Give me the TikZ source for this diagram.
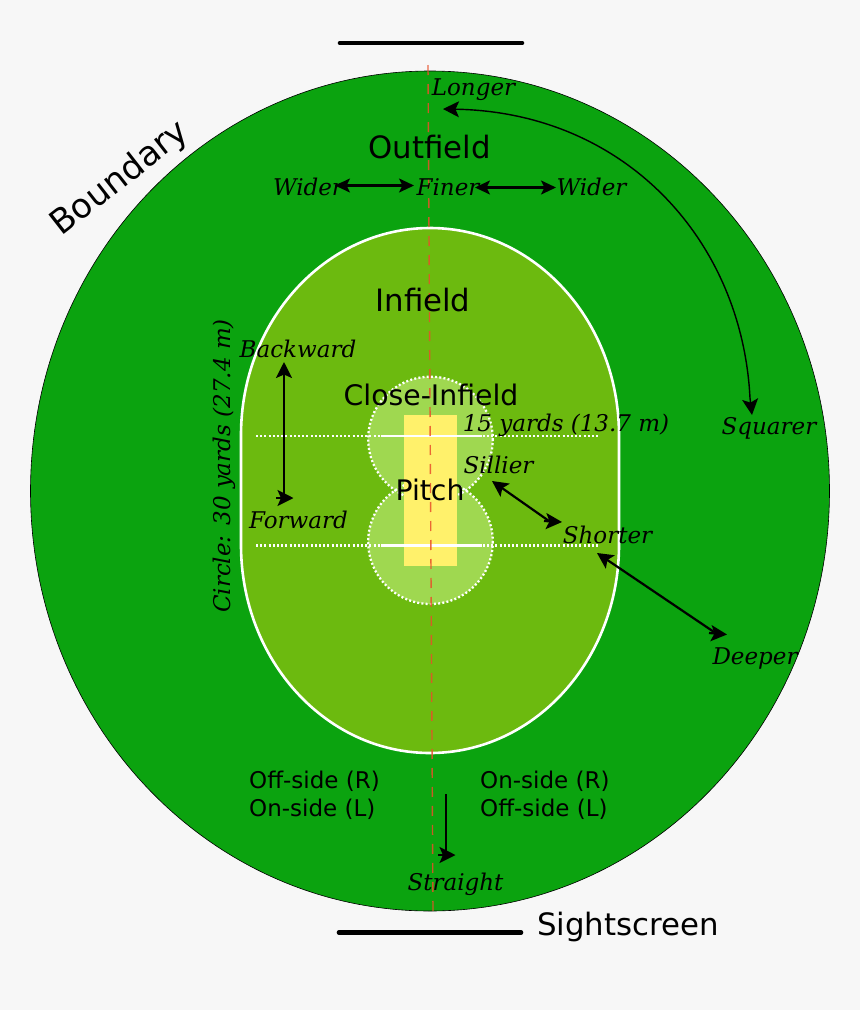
\documentclass[tikz,border=0pt]{standalone}
\usepackage{fontspec}
\setmainfont{DejaVu Sans}
\newfontfamily\fieldserif{DejaVu Serif}
\usetikzlibrary{arrows.meta,positioning}
\definecolor{paper}{HTML}{F7F7F7}
\definecolor{outfield}{HTML}{0BA30F}
\definecolor{infield}{HTML}{6CBA0F}
\definecolor{closefield}{HTML}{9FD850}
\definecolor{pitchcol}{HTML}{FFF16B}
\definecolor{centreline}{HTML}{E8502A}
\tikzset{x=1pt,y=-1pt,
	every node/.style={inner sep=0pt,text=black},
	zone/.style={font=\fontsize{30.8}{36}\selectfont},
	zonesmall/.style={font=\fontsize{28.3}{34}\selectfont},
	sidelabel/.style={anchor=west,font=\fontsize{23}{28}\selectfont},
	hint/.style={font=\fieldserif\itshape\fontsize{23}{28}\selectfont},
	rope/.style={line width=4.6pt,line cap=round},
	dotline/.style={white,line width=2.3pt,dash pattern=on 2pt off 2.2pt},
	crease/.style={white,line width=2.6pt},
	arrowline/.style={line width=2.2pt},
	headed/.style={line width=2.2pt,-{Stealth[length=16pt,width=16pt,inset=3.5pt]}},
	thinheaded/.style={line width=1.4pt,-{Stealth[length=16pt,width=16pt,inset=3.5pt]}},
	bothheaded/.style={line width=2.2pt,{Stealth[length=15pt,width=14pt,inset=3.5pt]}-{Stealth[length=15pt,width=14pt,inset=3.5pt]}}}
\begin{document}
\begin{tikzpicture}
	\fill[paper] (0,0) rectangle (860,1010);
	\useasboundingbox (0,0) rectangle (860,1010);
	% ground
	\draw[fill=outfield,line width=0.6pt] (430,491) circle[x radius=399.5,y radius=420];
	\draw[fill=infield,draw=white,line width=2.6pt] (241,435) arc[start angle=180,end angle=360,x radius=189,y radius=207]
		-- (619,545) arc[start angle=0,end angle=180,x radius=189,y radius=208] -- cycle;
	\fill[closefield] (430.5,439) circle[radius=62.3] (430.5,541.7) circle[radius=62.3];
	\draw[dotline] (430.5,439) circle[radius=62.3] (430.5,541.7) circle[radius=62.3];
	\fill[pitchcol] (403.5,415) rectangle (457,566);
	% creases
	\draw[dotline] (256,436) -- (598,436);
	\draw[dotline] (256,545.5) -- (598,545.5);
	\draw[crease] (381,436) -- (482,436);
	\draw[crease] (381,545.5) -- (482,545.5);
	\draw[centreline,opacity=0.85,line width=1.4pt,dash pattern=on 10pt off 9pt] (428,65) -- (433,911);
	% sightscreens
	\coordinate (topL) at (340,43);
	\coordinate (topR) at (522,43);
	\coordinate (botL) at (339,932.5);
	\coordinate (botR) at (521,932.5);
	\draw[rope] (topL) -- (topR);
	\draw[rope] (botL) -- (botR);
	% labels
	\node[zone] (outfieldlab) at (429.5,147) {Outfield};
	\node[zone] (infieldlab) at (423,300) {Infield};
	\node[zonesmall] (closelab) at (431,395) {Close-Infield};
	\node[zonesmall] (pitchlab) at (430,490) {Pitch};
	\node[zone,anchor=west] (screenlab) at (537,927) {Sightscreen};
	\node[zone,rotate=38,font=\fontsize{34}{42}\selectfont] (boundarylab) at (120,179) {Boundary};
	\node[sidelabel] (offR) at (249,781) {Off-side (R)};
	\node[sidelabel] (onL) at (249,809) {On-side (L)};
	\node[sidelabel] (onR) at (480,781) {On-side (R)};
	\node[sidelabel] (offL) at (480,809) {Off-side (L)};
	\node[hint] (longer) at (473.5,90) {Longer};
	\node[hint] (widerL) at (308,187) {Wider};
	\node[hint] (finer) at (448,187) {Finer};
	\node[hint] (widerR) at (591.5,187) {Wider};
	\node[hint] (backward) at (298,349) {Backward};
	\node[hint] (forward) at (298.5,520) {Forward};
	\node[hint] (yards) at (566,425) {15 yards (13.7 m)};
	\node[hint] (sillier) at (498.5,465) {Sillier};
	\node[hint] (shorter) at (607.5,535) {Shorter};
	\node[hint] (squarer) at (769,428) {Squarer};
	\node[hint] (deeper) at (755,658) {Deeper};
	\node[hint] (straight) at (455.5,884) {Straight};
	\node[hint,rotate=90] (circlelab) at (224,466) {Circle: 30 yards (27.4 m)};
	% arrows
	\coordinate (wideAa) at (335,185.5);
	\coordinate (wideAb) at (414,185.5);
	\coordinate (wideBa) at (475,187.5);
	\coordinate (wideBb) at (556,187.5);
	\draw[bothheaded] (wideAa) -- (wideAb);
	\draw[bothheaded] (wideBa) -- (wideBb);
	\coordinate (longTip) at (443,109);
	\coordinate (squareTip) at (752,415);
	\coordinate (squareBase) at (750,398);
	\draw[thinheaded] (squareBase) .. controls (742,240) and (625,112) .. (longTip);
	\draw[thinheaded] (squareBase) -- (squareTip);
	\coordinate (backTip) at (284,362);
	\coordinate (backEnd) at (284,498);
	\coordinate (backStub) at (276,498);
	\coordinate (foreTip) at (293.5,498);
	\draw[headed] (backEnd) -- (backTip);
	\draw[headed] (backStub) -- (foreTip);
	\coordinate (sillTip) at (492,481);
	\coordinate (sillEnd) at (549,521);
	\coordinate (sillStub) at (544,521);
	\coordinate (sillHead) at (562,522);
	\draw[headed] (sillEnd) -- (sillTip);
	\draw[headed] (sillStub) -- (sillHead);
	\coordinate (deepTip) at (597,553);
	\coordinate (deepEnd) at (714,632);
	\coordinate (deepStub) at (709,633);
	\coordinate (deepHead) at (727,634.5);
	\draw[headed] (deepEnd) -- (deepTip);
	\draw[headed] (deepStub) -- (deepHead);
	\coordinate (straightTop) at (446,794);
	\coordinate (straightEnd) at (446,855);
	\coordinate (straightStub) at (438,855);
	\coordinate (straightTip) at (455.5,855);
	\draw[arrowline] (straightTop) -- (straightEnd);
	\draw[headed] (straightStub) -- (straightTip);
\end{tikzpicture}
\end{document}
